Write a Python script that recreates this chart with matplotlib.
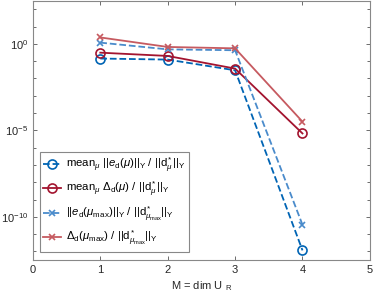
import matplotlib
matplotlib.use("Agg")
import matplotlib.pyplot as plt
import numpy as np

# Reduced basis dimension
M = [1, 2, 3, 4]

# log10 of the error measures
mean_err = [-0.85, -0.91, -1.53, -11.94]
mean_est = [-0.51, -0.70, -1.43, -5.18]
max_err = [0.07, -0.32, -0.37, -10.46]
max_est = [0.37, -0.18, -0.26, -4.50]

LABELS = [
    r"mean$_\mu$ $||e_{\rm d}(\mu)||_{\rm Y}$ / $||{\rm d}^*_\mu||_{\rm Y}$",
    r"mean$_\mu$ $\Delta_{\rm d}(\mu)$ / $||{\rm d}^*_\mu||_{\rm Y}$",
    r"$||e_{\rm d}(\mu_{\rm max})||_{\rm Y}$ / $||{\rm d}^*_{\mu_{\rm max}}||_{\rm Y}$",
    r"$\Delta_{\rm d}(\mu_{\rm max})$ / $||{\rm d}^*_{\mu_{\rm max}}||_{\rm Y}$",
]

COLORS = {
    "BLUE": "#0064b4",
    "RED": "#a3142f",
    "LBLUE": "#4a8bcb",
    "LRED": "#c65a60",
}

plt.rcParams["font.family"] = "Liberation Sans"
plt.rcParams["font.size"] = 8
plt.rcParams["mathtext.fontset"] = "custom"
plt.rcParams["mathtext.rm"] = "Liberation Sans"
plt.rcParams["mathtext.it"] = "Liberation Sans:italic"

fig = plt.figure(figsize=(3.74, 3.01), dpi=100)
ax = fig.add_axes([0.088, 0.136, 0.901, 0.862])

ax.semilogy(M, 10.0 ** np.array(mean_err), "o--", color=COLORS["BLUE"], lw=1.3,
            ms=6.5, mfc="none", mew=1.2, label=LABELS[0])
ax.semilogy(M, 10.0 ** np.array(mean_est), "o-", color=COLORS["RED"], lw=1.3,
            ms=6.5, mfc="none", mew=1.2, label=LABELS[1])
ax.semilogy(M, 10.0 ** np.array(max_err), "x--", color=COLORS["LBLUE"], lw=1.3,
            ms=5, mew=1.2, label=LABELS[2])
ax.semilogy(M, 10.0 ** np.array(max_est), "x-", color=COLORS["LRED"], lw=1.3,
            ms=5, mew=1.2, label=LABELS[3])

ax.set_xlim(0, 5)
ax.set_ylim(10 ** -12.5, 10 ** 2.5)
ax.set_xticks(range(6))
ax.set_yticks([1e-10, 1e-5, 1e0])
ax.set_yticks([10.0 ** k for k in range(-12, 3)], minor=True)
ax.yaxis.set_minor_formatter(matplotlib.ticker.NullFormatter())
ax.tick_params(which="both", direction="in", top=True, right=True,
               colors="#555555", labelcolor="#262626", length=3, width=0.6)
ax.tick_params(which="minor", length=2)
ax.tick_params(axis="x", which="minor", bottom=False, top=False)
for sp in ax.spines.values():
    sp.set_color("#888888")
    sp.set_linewidth(0.8)

ax.set_xlabel(r"M = dim U $_{\rm R}$", color="#262626", labelpad=3)

leg = ax.legend(loc="lower left", bbox_to_anchor=(0.02, 0.032), fontsize=8.2,
                handlelength=1.6, handletextpad=0.4, borderpad=0.3,
                labelspacing=0.45, borderaxespad=0, fancybox=False, framealpha=1)
leg.get_frame().set_edgecolor("#888888")
leg.get_frame().set_linewidth(0.8)

fig.savefig("out.png", dpi=100)
